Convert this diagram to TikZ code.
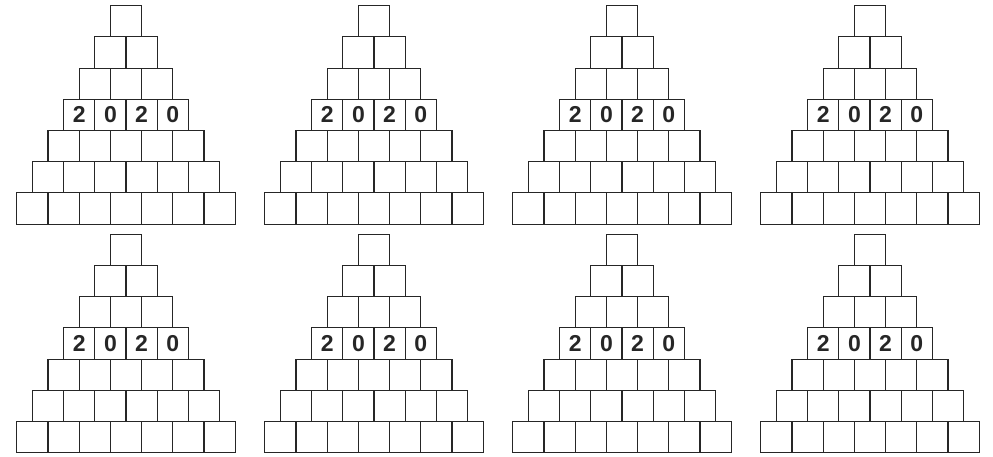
\documentclass[tikz,border=0pt]{standalone}
\usepackage{fontspec}
\setmainfont{Liberation Sans}
\begin{document}
\begin{tikzpicture}[x=1pt,y=-1pt,
  cell/.style={draw=black!85, line width=1.1pt, minimum size=31.2pt, inner sep=0pt,
    font=\fontsize{23}{23}\selectfont\bfseries, text=black!85}]
\useasboundingbox (0,0) rectangle (993,456);
\foreach \pp/\cx in {1/126,2/374,3/622,4/870}{
  \foreach \qq/\ty in {1/5.7,2/234.3}{
    \foreach \r in {1,...,7}{
      \foreach \c in {1,...,\r}{
        \node[cell] (p\pp-\qq-\r-\c) at ({\cx+(\c-(\r+1)/2)*31.2}, {\ty+(\r-0.5)*31.2})
          {\ifnum\r=4\relax\ifodd\c\relax 2\else 0\fi\fi};
      }
    }
  }
}
\end{tikzpicture}
\end{document}
